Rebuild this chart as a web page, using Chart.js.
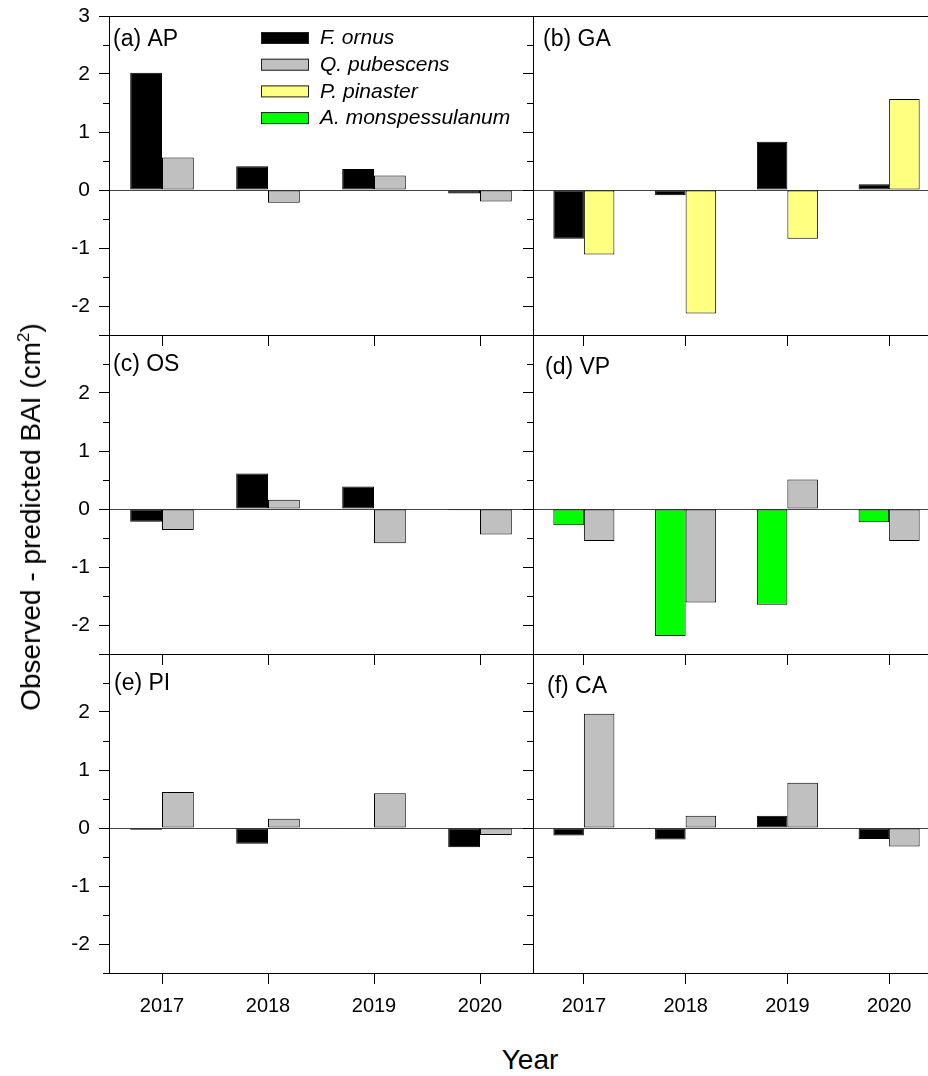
<!DOCTYPE html>
<html lang="en">
<head>
<meta charset="UTF-8">
<title>Observed - predicted BAI</title>
<script src="https://cdn.jsdelivr.net/npm/chart.js"></script>
<style>
  html, body { margin: 0; padding: 0; background: #fff; overflow: hidden; }
  #wrap { position: relative; width: 928px; height: 1076px; overflow: hidden;
          font-family: "Liberation Sans", Arial, sans-serif; color: #000; }
  #wrap canvas { position: absolute; }
  #ytitle { position: absolute; left: 31px; top: 517px; white-space: nowrap; font-size: 28px;
            transform: translate(-50%, -50%) rotate(-90deg); }
  #ytitle sup { font-size: 17px; vertical-align: 11px; line-height: 0; }
  #xtitle { position: absolute; left: 530px; top: 1060px; white-space: nowrap; font-size: 28px;
            transform: translate(-50%, -50%); }
</style>
</head>
<body>
<div id="wrap">
  <canvas id="pa"></canvas>
  <canvas id="pb"></canvas>
  <canvas id="pc"></canvas>
  <canvas id="pd"></canvas>
  <canvas id="pe"></canvas>
  <canvas id="pf"></canvas>
  <div id="ytitle">Observed - predicted BAI (cm<sup>2</sup>)</div>
  <div id="xtitle">Year</div>
</div>

<script>
// categories and axis ticks
const years = ['2017', '2018', '2019', '2020'];
const yTicks = [-2, -1, 0, 1, 2, 3];
const yMinorTicks = [-2.5, -1.5, -0.5, 0.5, 1.5, 2.5];

const species = ['F. ornus', 'Q. pubescens', 'P. pinaster', 'A. monspessulanum'];
const speciesColors = ['#000000', '#c0c0c0', '#ffff80', '#00ff00'];

// observed - predicted BAI (cm2)
const apFornus = [2.02, 0.41, 0.36, -0.06];
const apQpub   = [0.56, -0.22, 0.25, -0.20];
const gaFornus = [-0.84, -0.09, 0.83, 0.10];
const gaPpin   = [-1.11, -2.13, -0.84, 1.57];
const osFornus = [-0.22, 0.61, 0.39, -0.02];
const osQpub   = [-0.36, 0.16, -0.59, -0.44];
const vpAmon   = [-0.28, -2.19, -1.65, -0.23];
const vpQpub   = [-0.55, -1.61, 0.51, -0.55];
const piFornus = [-0.03, -0.27, -0.015, -0.33];
const piQpub   = [0.62, 0.16, 0.60, -0.12];
const caFornus = [-0.13, -0.20, 0.21, -0.19];
const caQpub   = [1.97, 0.21, 0.78, -0.32];

const panels = [
  { id: 'pa', text: '(a) AP', row: 0, col: 0, sp: [0, 1], data: [apFornus, apQpub], dx: 4, dy: 24, legend: true },
  { id: 'pb', text: '(b) GA', row: 0, col: 1, sp: [0, 2], data: [gaFornus, gaPpin], dx: 10, dy: 24 },
  { id: 'pc', text: '(c) OS', row: 1, col: 0, sp: [0, 1], data: [osFornus, osQpub], dx: 4, dy: 30 },
  { id: 'pd', text: '(d) VP', row: 1, col: 1, sp: [3, 1], data: [vpAmon, vpQpub], dx: 12, dy: 33 },
  { id: 'pe', text: '(e) PI', row: 2, col: 0, sp: [0, 1], data: [piFornus, piQpub], dx: 5, dy: 30 },
  { id: 'pf', text: '(f) CA', row: 2, col: 1, sp: [0, 1], data: [caFornus, caQpub], dx: 14, dy: 33 }
];

const FONT = '"Liberation Sans", Arial, sans-serif';
Chart.defaults.font.family = FONT;
Chart.defaults.color = '#000';

// layout of the grid of panels
const PAD_TOP = 16;
const PANEL_H = 319;
const rowTop = [16, 335, 654];
const colCanvas = [
  { left: 0, width: 535, yW: 109 },
  { left: 521, width: 421, yW: 12 }
];

// panel label, legend and top frame line
const panelDecor = {
  id: 'panelDecor',
  afterDraw(chart, args, opts) {
    const { ctx, chartArea: a } = chart;
    ctx.save();
    if (opts.topBorder) {
      ctx.strokeStyle = '#000';
      ctx.lineWidth = 1;
      ctx.beginPath();
      ctx.moveTo(a.left, Math.round(a.top) + 0.5);
      ctx.lineTo(a.right, Math.round(a.top) + 0.5);
      ctx.stroke();
    }
    ctx.fillStyle = '#000';
    ctx.font = '23px ' + FONT;
    ctx.textAlign = 'left';
    ctx.textBaseline = 'middle';
    ctx.fillText(opts.text, a.left + opts.dx, a.top + opts.dy);

    if (opts.legend) {
      ctx.font = 'italic 21px ' + FONT;
      species.forEach((name, i) => {
        const bx = a.left + 152, by = a.top + 16 + i * 26.7;
        ctx.fillStyle = speciesColors[i];
        ctx.fillRect(bx, by, 48, 12);
        ctx.strokeStyle = '#222';
        ctx.strokeRect(bx + 0.5, by + 0.5, 47, 11);
        ctx.fillStyle = '#000';
        ctx.fillText(name, a.left + 211, by + 6.5);
      });
    }
    ctx.restore();
  }
};

panels.forEach(p => {
  const cc = colCanvas[p.col];
  const xH = p.row === 2 ? 60 : 15;
  const canvas = document.getElementById(p.id);
  canvas.width = cc.width;
  canvas.height = PAD_TOP + PANEL_H + xH;
  canvas.style.left = cc.left + 'px';
  canvas.style.top = (rowTop[p.row] - PAD_TOP) + 'px';

  new Chart(canvas, {
    type: 'bar',
    data: {
      labels: years,
      datasets: p.sp.map((s, i) => ({
        label: species[s],
        data: p.data[i],
        backgroundColor: speciesColors[s],
        borderColor: '#000',
        borderWidth: 1,
        borderSkipped: false,
        categoryPercentage: 0.6,
        barPercentage: 1.0
      }))
    },
    plugins: [panelDecor],
    options: {
      responsive: false,
      animation: false,
      layout: { padding: { top: PAD_TOP, right: 2, left: 0, bottom: 0 } },
      plugins: {
        legend: { display: false },
        tooltip: { enabled: false },
        panelDecor: { text: p.text, dx: p.dx, dy: p.dy, legend: !!p.legend, topBorder: p.row === 0 }
      },
      scales: {
        x: {
          type: 'category',
          offset: true,
          grid: { offset: false, drawOnChartArea: false, tickColor: '#000', tickLength: 11 },
          border: { display: true, color: '#000' },
          ticks: { display: p.row === 2, color: '#000', padding: 10, font: { size: 20 }, maxRotation: 0, autoSkip: false },
          afterFit: s => {
            s.height = xH;
            s.paddingLeft = 0; s.paddingRight = 0;
          }
        },
        y: {
          position: 'left',
          weight: 1,
          min: -2.5,
          max: 3,
          afterBuildTicks: s => { s.ticks = yTicks.map(v => ({ value: v })); },
          afterFit: s => {
            s.width = cc.yW;
            s.paddingTop = 0; s.paddingBottom = 0;
          },
          grid: {
            color: c => (c.tick && c.tick.value === 0) ? '#444' : 'transparent',
            tickColor: '#000',
            tickLength: 10
          },
          border: { display: true, color: '#000' },
          ticks: {
            display: p.col === 0,
            padding: 9,
            color: '#000',
            font: { size: 21 },
            callback: v => (p.row > 0 && v === 3) ? '' : String(v)
          }
        },
        ym: {
          position: 'left',
          weight: 0,
          min: -2.5,
          max: 3,
          afterBuildTicks: s => { s.ticks = yMinorTicks.map(v => ({ value: v })); },
          afterFit: s => {
            s.width = 0;
            s.paddingTop = 0; s.paddingBottom = 0;
          },
          grid: { drawOnChartArea: false, tickColor: '#000', tickLength: 6 },
          border: { display: false },
          ticks: { display: false }
        }
      }
    }
  });
});
</script>
</body>
</html>
